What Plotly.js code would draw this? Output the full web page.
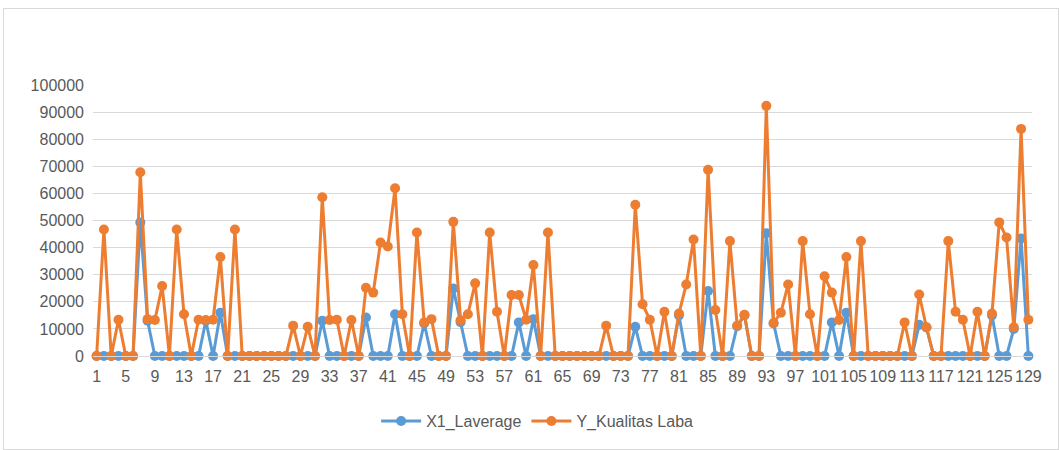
<!DOCTYPE html>
<html>
<head>
<meta charset="utf-8">
<script src="https://cdn.plot.ly/plotly-3.0.1.min.js"></script>
<style>
  html, body { margin: 0; padding: 0; background: #ffffff; }
  #wrap { position: relative; width: 1059px; height: 450px; }
  #chart { position: absolute; left: 0; top: 0; width: 1059px; height: 450px; }
  #frame { position: absolute; left: 3px; top: 8px; width: 1056px; height: 442px;
           border: 1px solid #D9D9D9; box-sizing: border-box; pointer-events: none; }
</style>
</head>
<body>
<div id="wrap">
  <div id="chart"></div>
  <div id="frame"></div>
</div>
<script>
// Category index 1..129
const categories = Array.from({length: 129}, (_, i) => i + 1);

// X1_Laverage values
const x1Laverage = [
  0, 0, 0, 0, 0, 0, 49300, 13000, 0, 0,
  0, 0, 0, 0, 0, 13000, 0, 16000, 0, 0,
  0, 0, 0, 0, 0, 0, 0, 0, 0, 0,
  0, 13000, 0, 0, 0, 0, 0, 14200, 0, 0,
  0, 15400, 0, 0, 0, 12000, 0, 0, 0, 24900,
  12500, 0, 0, 0, 0, 0, 0, 0, 12400, 0,
  13600, 0, 0, 0, 0, 0, 0, 0, 0, 0,
  0, 0, 0, 0, 10800, 0, 0, 0, 0, 0,
  15000, 0, 0, 0, 24000, 0, 0, 0, 11000, 15000,
  0, 0, 45300, 12000, 0, 0, 0, 0, 0, 0,
  0, 12400, 0, 16000, 0, 0, 0, 0, 0, 0,
  0, 0, 0, 11500, 10500, 0, 0, 0, 0, 0,
  0, 0, 0, 15000, 0, 0, 10000, 43400, 0
];

// Y_Kualitas Laba values
const yKualitasLaba = [
  0, 46700, 0, 13400, 0, 0, 67800, 13600, 13300, 25800,
  0, 46700, 15400, 0, 13400, 13300, 13400, 36500, 0, 46700,
  0, 0, 0, 0, 0, 0, 0, 11200, 0, 10800,
  0, 58600, 13300, 13400, 0, 13300, 0, 25200, 23400, 41900,
  40400, 61900, 15400, 0, 45600, 12400, 13600, 0, 0, 49500,
  13200, 15400, 26800, 0, 45600, 16300, 0, 22500, 22500, 13400,
  33600, 0, 45600, 0, 0, 0, 0, 0, 0, 0,
  11200, 0, 0, 0, 55800, 19100, 13400, 0, 16300, 0,
  15700, 26400, 43000, 0, 68700, 17000, 0, 42400, 11200, 15200,
  0, 0, 92300, 12200, 16000, 26400, 0, 42400, 15400, 0,
  29400, 23400, 13300, 36500, 0, 42400, 0, 0, 0, 0,
  0, 12400, 0, 22700, 10600, 0, 0, 42400, 16300, 13400,
  0, 16300, 0, 15700, 49300, 43700, 10600, 83800, 13400
];

// Tick labels shown on the category axis
const xTickVals = categories.filter(v => (v - 1) % 4 === 0);
const xTickText = xTickVals.map(String);
const yTickVals = [0, 10000, 20000, 30000, 40000, 50000, 60000, 70000, 80000, 90000, 100000];
const yTickText = yTickVals.map(String);

const seriesNames = ["X1_Laverage", "Y_Kualitas Laba"];
const seriesColors = ["#5B9BD5", "#ED7D31"];

const traces = [x1Laverage, yKualitasLaba].map((vals, k) => ({
  type: "scatter",
  mode: "lines+markers",
  name: seriesNames[k],
  x: categories,
  y: vals,
  line: {color: seriesColors[k], width: 3},
  marker: {color: seriesColors[k], size: 10, symbol: "circle"},
  cliponaxis: false
}));

const layout = {
  width: 1059,
  height: 450,
  margin: {l: 93, r: 27, t: 85, b: 91},
  paper_bgcolor: "#ffffff",
  plot_bgcolor: "#ffffff",
  font: {family: "Liberation Sans, Arial, sans-serif", size: 16, color: "#595959"},
  showlegend: true,
  legend: {
    orientation: "h",
    x: 0.473, xanchor: "center",
    y: -0.24, yanchor: "middle",
    font: {size: 16, color: "#595959"},
    itemwidth: 40,
    traceorder: "normal"
  },
  xaxis: {
    range: [0.5, 129.5],
    tickmode: "array",
    tickvals: xTickVals,
    ticktext: xTickText,
    showgrid: false,
    zeroline: false,
    showline: true,
    linecolor: "#D9D9D9",
    linewidth: 1,
    ticks: "",
    tickfont: {size: 16, color: "#595959"},
    ticklabelstandoff: 6,
    fixedrange: true
  },
  yaxis: {
    range: [0, 100000],
    tickmode: "array",
    tickvals: yTickVals,
    ticktext: yTickText,
    showgrid: true,
    gridcolor: "#D9D9D9",
    gridwidth: 1,
    zeroline: false,
    showline: false,
    ticks: "",
    tickfont: {size: 16, color: "#595959"},
    ticklabelstandoff: 8,
    fixedrange: true
  }
};

Plotly.newPlot("chart", traces, layout, {displayModeBar: false, staticPlot: true});
</script>
</body>
</html>
